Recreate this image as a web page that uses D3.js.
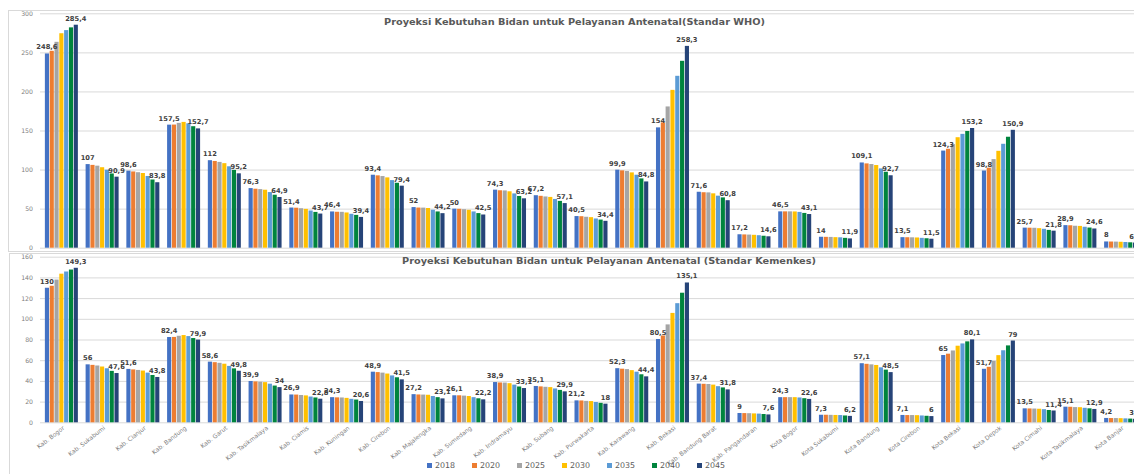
<!DOCTYPE html>
<html>
<head>
<meta charset="utf-8">
<script src="https://cdn.jsdelivr.net/npm/d3@7"></script>
<style>
  body { margin: 0; background: #fff; }
  svg { display: block; }
  text { font-family: "DejaVu Sans", sans-serif; }
</style>
</head>
<body>
<svg id="chart" width="1134" height="474"></svg>
<script>
// Kabupaten / kota di Jawa Barat
const categories = [
  "Kab. Bogor", "Kab. Sukabumi", "Kab. Cianjur", "Kab. Bandung", "Kab. Garut",
  "Kab. Tasikmalaya", "Kab. Ciamis", "Kab. Kuningan", "Kab. Cirebon", "Kab. Majalengka",
  "Kab. Sumedang", "Kab. Indramayu", "Kab. Subang", "Kab. Purwakarta", "Kab. Karawang",
  "Kab. Bekasi", "Kab. Bandung Barat", "Kab. Pangandaran", "Kota Bogor", "Kota Sukabumi",
  "Kota Bandung", "Kota Cirebon", "Kota Bekasi", "Kota Depok", "Kota Cimahi",
  "Kota Tasikmalaya", "Kota Banjar"
];
const years = ["2018", "2020", "2025", "2030", "2035", "2040", "2045"];
const yearColors = ["#4472C4", "#ED7D31", "#A5A5A5", "#FFC000", "#5B9BD5", "#00843D", "#264478"];

// Standar WHO
const who2018 = [248.6, 107, 98.6, 157.5, 112, 76.3, 51.4, 46.4, 93.4, 52, 50, 74.3, 67.2, 40.5, 99.9, 154, 71.6, 17.2, 46.5, 14, 109.1, 13.5, 124.3, 98.8, 25.7, 28.9, 8];
const who2020 = [252, 106, 97.6, 157.6, 111, 75.5, 51.2, 46, 92.6, 51.4, 49.8, 73.5, 66.4, 40.3, 99, 160.4, 71, 17, 46.5, 13.9, 107.9, 13.4, 126.6, 102.4, 25.6, 28.7, 7.9];
const who2025 = [263.5, 105, 96.6, 159.8, 109.8, 75, 50.5, 45.9, 91.7, 51.3, 49.3, 73.3, 65.6, 39.6, 98.2, 180.8, 70.8, 16.8, 46.5, 13.8, 107.1, 13.3, 132.6, 113.4, 25.5, 28.1, 7.8];
const who2030 = [274.5, 103, 95.6, 161, 108.2, 74.2, 49.7, 45.1, 90, 50.8, 48.5, 72.2, 65, 39.1, 96.4, 202, 69.6, 16.5, 46.4, 13.5, 105.8, 13.1, 141.4, 124, 25, 27.9, 7.6];
const who2035 = [278.5, 99.8, 91.8, 159.2, 104.2, 71.2, 47.6, 43.4, 86.5, 48.6, 46.4, 69.5, 62.4, 37.4, 93.4, 220, 66.6, 16, 45.8, 13.3, 101.5, 12.6, 145.7, 133, 24.2, 26.8, 7.3];
const who2040 = [282, 95, 87.3, 155.5, 99.6, 67.8, 45.8, 42, 83.1, 46.4, 44.3, 66.2, 59.9, 36, 88.7, 239.2, 64.4, 15.3, 44.5, 12.6, 97.2, 12.1, 149.4, 142, 22.8, 25.8, 6.9];
const who2045 = [285.4, 90.9, 83.8, 152.7, 95.2, 64.9, 43.7, 39.4, 79.4, 44.2, 42.5, 63.2, 57.1, 34.4, 84.8, 258.3, 60.8, 14.6, 43.1, 11.9, 92.7, 11.5, 153.2, 150.9, 21.8, 24.6, 6.6];

// Standar Kemenkes
const kmk2018 = [130, 56, 51.6, 82.4, 58.6, 39.9, 26.9, 24.3, 48.9, 27.2, 26.1, 38.9, 35.1, 21.2, 52.3, 80.5, 37.4, 9, 24.3, 7.3, 57.1, 7.1, 65, 51.7, 13.5, 15.1, 4.2];
const kmk2020 = [131.9, 55.5, 51.1, 82.5, 58.1, 39.5, 26.8, 24.1, 48.5, 26.9, 26.1, 38.5, 34.7, 21.1, 51.8, 83.9, 37.2, 8.9, 24.3, 7.3, 56.5, 7, 66.3, 53.6, 13.4, 15, 4.1];
const kmk2025 = [137.9, 54.9, 50.6, 83.6, 57.5, 39.2, 26.4, 24, 48, 26.8, 25.8, 38.4, 34.3, 20.7, 51.4, 94.6, 37, 8.8, 24.3, 7.2, 56, 7, 69.4, 59.3, 13.3, 14.7, 4.1];
const kmk2030 = [143.6, 53.9, 50, 84.3, 56.6, 38.8, 26, 23.6, 47.1, 26.6, 25.4, 37.8, 34, 20.5, 50.4, 105.7, 36.4, 8.6, 24.3, 7.1, 55.4, 6.9, 74, 64.9, 13.1, 14.6, 4];
const kmk2035 = [145.7, 52.2, 48, 83.3, 54.5, 37.3, 24.9, 22.7, 45.3, 25.4, 24.3, 36.4, 32.7, 19.6, 48.9, 115.1, 34.9, 8.4, 24, 7, 53.1, 6.6, 76.2, 69.6, 12.7, 14, 3.8];
const kmk2040 = [147.6, 49.7, 45.7, 81.4, 52.1, 35.5, 24, 22, 43.5, 24.3, 23.2, 34.6, 31.3, 18.8, 46.4, 125.2, 33.7, 8, 23.3, 6.6, 50.9, 6.3, 78.2, 74.3, 11.9, 13.5, 3.6];
const kmk2045 = [149.3, 47.6, 43.8, 79.9, 49.8, 34, 22.8, 20.6, 41.5, 23.1, 22.2, 33.1, 29.9, 18, 44.4, 135.1, 31.8, 7.6, 22.6, 6.2, 48.5, 6, 80.1, 79, 11.4, 12.9, 3.4];

const whoTicks = [0, 50, 100, 150, 200, 250, 300];
const kmkTicks = [0, 20, 40, 60, 80, 100, 120, 140, 160];
const labelledYears = ["2018", "2045"];

const whoTitle = "Proyeksi Kebutuhan Bidan untuk Pelayanan Antenatal(Standar WHO)";
const kmkTitle = "Proyeksi Kebutuhan Bidan untuk Pelayanan Antenatal (Standar Kemenkes)";

const whoSeries = [who2018, who2020, who2025, who2030, who2035, who2040, who2045];
const kmkSeries = [kmk2018, kmk2020, kmk2025, kmk2030, kmk2035, kmk2040, kmk2045];

const svg = d3.select("#chart");
const plotLeft = 41, plotRight = 1141;

const x0 = d3.scaleBand().domain(categories).range([plotLeft, plotRight])
  .paddingInner(0.19).paddingOuter(0.095);
const x1 = d3.scaleBand().domain(years).range([0, x0.bandwidth()]).paddingInner(0.14);
const color = d3.scaleOrdinal().domain(years).range(yearColors);
const fmt = v => String(v).replace(".", ",");

// chart frames
svg.append("rect").attr("x", 8.5).attr("y", 10.5).attr("width", 1300).attr("height", 241)
  .attr("fill", "none").attr("stroke", "#d9d9d9");
svg.append("rect").attr("x", 9.5).attr("y", 253.5).attr("width", 1300).attr("height", 300)
  .attr("fill", "none").attr("stroke", "#d9d9d9");

function drawPanel(series, ticks, yRange, title, titleX, titleY, titleLen, withXLabels) {
  const y = d3.scaleLinear().domain([0, d3.max(ticks)]).range(yRange);
  const g = svg.append("g");

  const axis = d3.axisLeft(y).tickValues(ticks).tickSize(-(plotRight - 40)).tickPadding(7);
  const ag = g.append("g").attr("transform", "translate(40,0)").call(axis);
  ag.select(".domain").remove();
  ag.selectAll(".tick line").attr("stroke", "#d9d9d9").attr("stroke-width", 1);
  ag.selectAll(".tick text").attr("fill", "#808080").attr("font-size", 6.2)
    .attr("font-family", "DejaVu Sans, sans-serif");

  g.append("text").attr("x", titleX).attr("y", titleY)
    .attr("font-size", 8.8).attr("font-weight", "bold").attr("fill", "#595959")
    .attr("textLength", titleLen).attr("lengthAdjust", "spacingAndGlyphs")
    .text(title);

  const groups = g.selectAll("g.cat").data(categories).join("g")
    .attr("class", "cat")
    .attr("transform", d => `translate(${x0(d)},0)`);

  groups.selectAll("rect").data((d, i) => years.map((yr, j) => ({ yr, v: series[j][i] })))
    .join("rect")
    .attr("x", d => x1(d.yr))
    .attr("y", d => y(d.v))
    .attr("width", x1.bandwidth())
    .attr("height", d => y(0) - y(d.v))
    .attr("fill", d => color(d.yr));

  groups.selectAll("text.lbl")
    .data((d, i) => labelledYears.map(yr => ({ yr, v: series[years.indexOf(yr)][i] })))
    .join("text")
    .attr("class", "lbl")
    .attr("x", d => x1(d.yr) + x1.bandwidth() / 2)
    .attr("y", d => y(d.v) - 4)
    .attr("text-anchor", "middle")
    .attr("font-size", 6.7).attr("font-weight", "bold").attr("fill", "#404040")
    .text(d => fmt(d.v));

  if (withXLabels) {
    const base = y(0);
    g.selectAll("text.xl").data(categories).join("text")
      .attr("class", "xl")
      .attr("transform", d => `translate(${x0(d) + x0.bandwidth() / 2 + 3.5},${base + 6.5}) rotate(-38)`)
      .attr("text-anchor", "end")
      .attr("font-size", 6).attr("fill", "#7f7f7f")
      .text(d => d);
  }
}

drawPanel(whoSeries, whoTicks, [247.7, 13.3], whoTitle, 384, 25, 381, false);
drawPanel(kmkSeries, kmkTicks, [422.3, 256.7], kmkTitle, 402, 264, 414, true);

// legend
const legend = svg.append("g").selectAll("g").data(years).join("g")
  .attr("transform", (d, i) => `translate(${427 + i * 45},463)`);
legend.append("rect").attr("width", 5).attr("height", 5).attr("fill", d => color(d));
legend.append("text").attr("x", 8).attr("y", 5.2)
  .attr("font-size", 7.9).attr("fill", "#595959").text(d => d);
</script>
</body>
</html>
